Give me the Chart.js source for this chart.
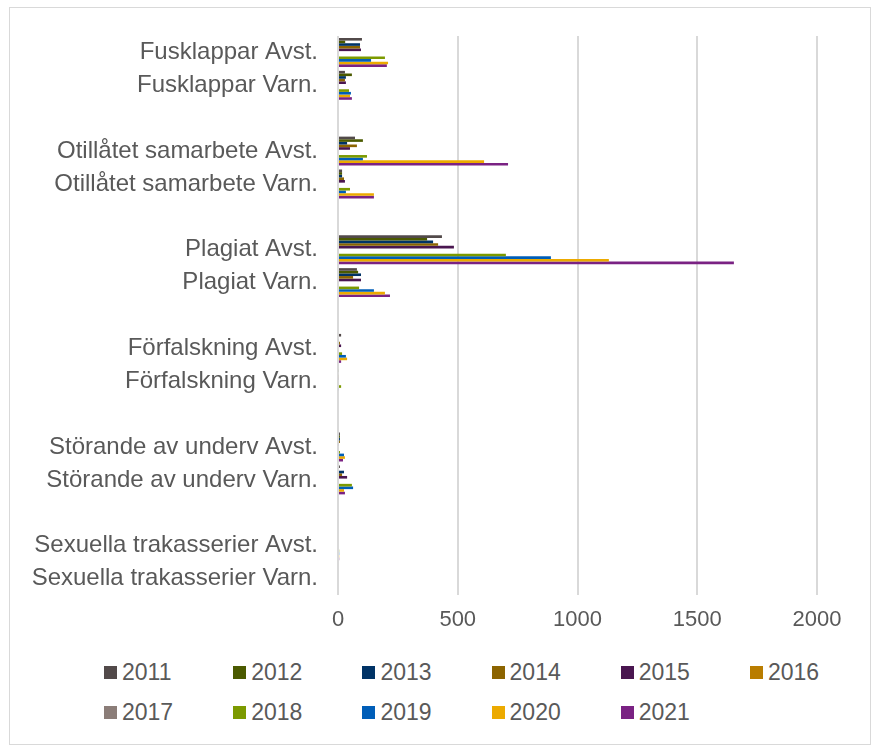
<!DOCTYPE html>
<html>
<head>
<meta charset="utf-8">
<script src="https://cdn.jsdelivr.net/npm/chart.js@4"></script>
<style>
  body { margin: 0; background: #fff; font-family: 'Liberation Sans', Arial, sans-serif; }
  #frame { position: absolute; left: 9px; top: 7px; width: 860px; height: 736px; border: 1px solid #d9d9d9; }
  #wrap { position: absolute; left: 0; top: 0; width: 874px; height: 645px; }
  #legend { position: absolute; left: 104px; top: 652px; display: grid;
            grid-template-columns: repeat(6, 129.2px); grid-auto-rows: 40px; }
  .item { display: flex; align-items: center; color: #595959; font-size: 23px; }
  .box { width: 13px; height: 13px; margin-right: 5px; }
</style>
</head>
<body>
<div id="frame"></div>
<div id="wrap"><canvas id="chart"></canvas></div>
<div id="legend"></div>
<script>
// categories (blank entries are the gaps between groups)
const categories = [
  'Fusklappar Avst.', 'Fusklappar Varn.', '',
  'Otillåtet samarbete Avst.', 'Otillåtet samarbete Varn.', '',
  'Plagiat Avst.', 'Plagiat Varn.', '',
  'Förfalskning Avst.', 'Förfalskning Varn.', '',
  'Störande av underv Avst.', 'Störande av underv Varn.', '',
  'Sexuella trakasserier Avst.', 'Sexuella trakasserier Varn.'
];
const years = ['2011', '2012', '2013', '2014', '2015', '2016', '2017', '2018', '2019', '2020', '2021'];
const colors = ['#524a4a', '#4b5a00', '#003366', '#8c6400', '#4a1650', '#b97d00',
                '#8b7d78', '#7c9a00', '#005eb8', '#ecaa00', '#7a2283'];
const xTicks = ['0', '500', '1000', '1500', '2000'];

const v2011 = [100, 29, null, 71, 17, null, 434, 79, null, 13, 0, null, 8, 8, null, 0, 0];
const v2012 = [30, 58, null, 104, 17, null, 372, 84, null, 0, 4, null, 8, 0, null, 0, 0];
const v2013 = [92, 33, null, 38, 17, null, 397, 96, null, 4, 0, null, 8, 25, null, 0, 0];
const v2014 = [92, 29, null, 79, 25, null, 418, 63, null, 8, 4, null, 8, 17, null, 0, 0];
const v2015 = [96, 33, null, 50, 29, null, 484, 96, null, 13, 4, null, 4, 38, null, 0, 0];
const v2016 = [null, null, null, null, null, null, null, null, null, null, null, null, null, null, null, null, null];
const v2017 = [null, null, null, null, null, null, null, null, null, null, null, null, null, null, null, null, null];
const v2018 = [196, 46, null, 121, 50, null, 701, 88, null, 17, 13, null, 8, 58, null, 5, 0];
const v2019 = [138, 54, null, 104, 33, null, 889, 150, null, 33, 4, null, 25, 63, null, 5, 0];
const v2020 = [209, 50, null, 610, 150, null, 1131, 196, null, 38, 0, null, 29, 25, null, 5, 0];
const v2021 = [204, 58, null, 710, 150, null, 1653, 217, null, 13, 0, null, 21, 29, null, 5, 0];

const series = [v2011, v2012, v2013, v2014, v2015, v2016, v2017, v2018, v2019, v2020, v2021];

Chart.defaults.font.family = "'Liberation Sans', Arial, sans-serif";
Chart.defaults.color = '#595959';

const htmlLegend = {
  id: 'htmlLegend',
  afterUpdate(chart) {
    const box = document.getElementById('legend');
    box.innerHTML = '';
    chart.options.plugins.legend.labels.generateLabels(chart).forEach(item => {
      const el = document.createElement('div');
      el.className = 'item';
      el.innerHTML = '<span class="box" style="background:' + item.fillStyle + '"></span>' + item.text;
      box.appendChild(el);
    });
  }
};

new Chart(document.getElementById('chart'), {
  type: 'bar',
  data: {
    labels: categories,
    datasets: years.map((y, i) => ({
      label: y,
      data: series[i],
      backgroundColor: colors[i],
      borderWidth: 0,
      categoryPercentage: 0.88,
      barPercentage: 1
    }))
  },
  options: {
    indexAxis: 'y',
    responsive: true,
    maintainAspectRatio: false,
    animation: false,
    layout: { padding: { left: 21, right: 57, top: 36, bottom: 0 } },
    plugins: { legend: { display: false }, tooltip: { enabled: false } },
    scales: {
      x: {
        min: 0, max: 2000,
        ticks: { stepSize: 500, padding: 12, font: { size: 22 }, callback: (v, i) => xTicks[i] },
        grid: { color: '#d9d9d9', lineWidth: 2, drawTicks: false },
        border: { display: false },
        afterFit: s => { s.height = 50; }
      },
      y: {
        ticks: { autoSkip: false, padding: 20, font: { size: 24 } },
        grid: { display: false, drawTicks: false },
        border: { display: false },
        afterFit: s => { s.width = 317; }
      }
    }
  },
  plugins: [htmlLegend]
});
</script>
</body>
</html>
